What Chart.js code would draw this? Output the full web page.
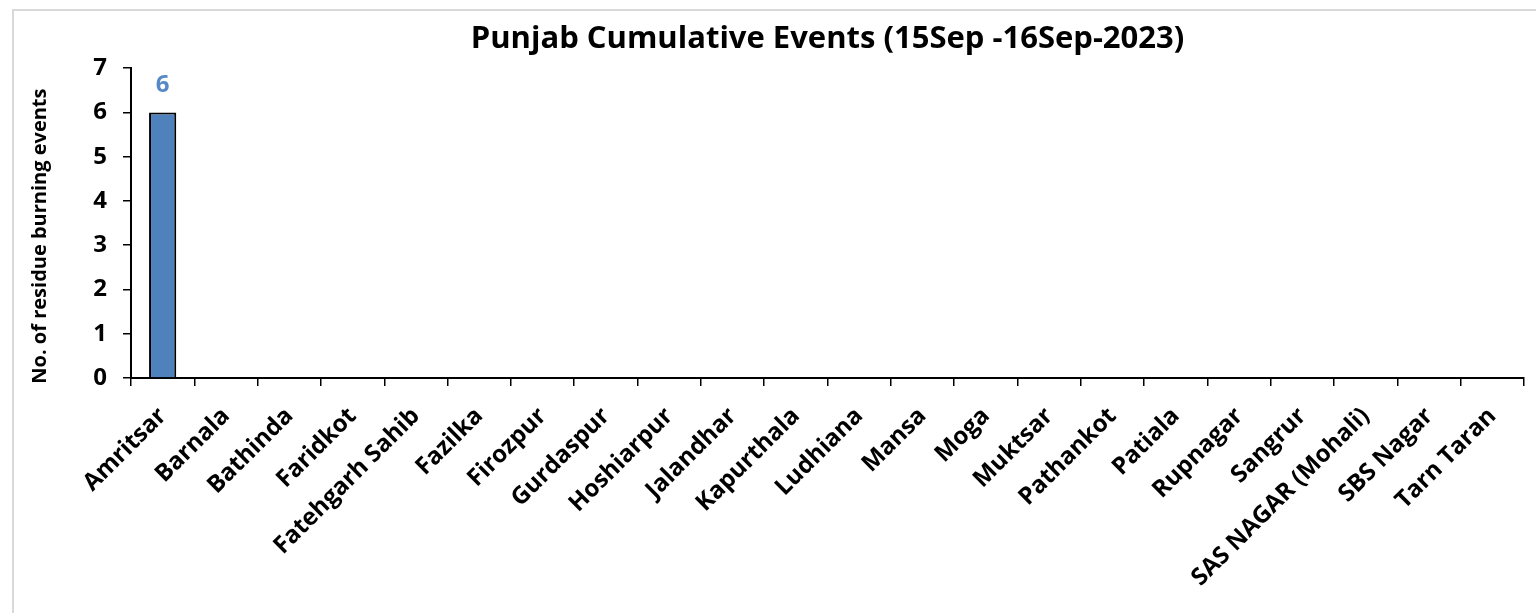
<!DOCTYPE html>
<html>
<head>
<meta charset="utf-8">
<script src="https://cdn.jsdelivr.net/npm/chart.js@4.4.0/dist/chart.umd.min.js"></script>
<style>
  html, body { margin: 0; padding: 0; background: #fff; overflow: hidden; }
  #wrap { position: relative; width: 1536px; height: 613px; }
  #frame { position: absolute; left: 12px; top: 9px; width: 1600px; height: 700px;
           border: 2px solid #d9d9d9; pointer-events: none; }
</style>
</head>
<body>
<div id="wrap">
  <canvas id="myChart" width="1536" height="613"></canvas>
  <div id="frame"></div>
</div>
<script>
// data
const districts = ["Amritsar", "Barnala", "Bathinda", "Faridkot", "Fatehgarh Sahib", "Fazilka",
  "Firozpur", "Gurdaspur", "Hoshiarpur", "Jalandhar", "Kapurthala", "Ludhiana", "Mansa", "Moga",
  "Muktsar", "Pathankot", "Patiala", "Rupnagar", "Sangrur", "SAS NAGAR (Mohali)", "SBS Nagar", "Tarn Taran"];
const eventos = [6, 0, 0, 0, 0, 0, 0, 0, 0, 0, 0, 0, 0, 0, 0, 0, 0, 0, 0, 0, 0, 0];
const yTicks = [0, 1, 2, 3, 4, 5, 6, 7];

const fuente = "'Open Sans', 'DejaVu Sans', sans-serif";

// etiquetas encima de las barras (solo valores > 0)
const etiquetas = {
  id: "etiquetas",
  afterDatasetsDraw(chart) {
    const ctx = chart.ctx;
    const meta = chart.getDatasetMeta(0);
    ctx.save();
    ctx.font = "bold 24px " + fuente;
    ctx.fillStyle = "#5589c7";
    ctx.textAlign = "center";
    ctx.textBaseline = "middle";
    meta.data.forEach((bar, i) => {
      if (eventos[i] > 0) ctx.fillText(eventos[i], bar.x, bar.y - 27);
    });
    ctx.restore();
  }
};

const ctxL = document.getElementById("myChart").getContext("2d");
const myChart = new Chart(ctxL, {
  type: "bar",
  data: {
    labels: districts,
    datasets: [{
      data: eventos,
      backgroundColor: "#4f81bd",
      borderColor: "#000000",
      borderWidth: 2,
      barPercentage: 0.43,
      categoryPercentage: 1
    }]
  },
  options: {
    responsive: false,
    animation: false,
    layout: { padding: { left: 20, right: 12, top: 0, bottom: 0 } },
    plugins: {
      legend: { display: false },
      tooltip: { enabled: false },
      title: {
        display: true,
        fullSize: false,
        text: "Punjab Cumulative Events (15Sep -16Sep-2023)",
        color: "#000",
        font: { family: fuente, size: 31, weight: "bold" },
        padding: { top: 21, bottom: 10 }
      }
    },
    scales: {
      x: {
        grid: { display: true, drawOnChartArea: false, drawTicks: true, tickLength: 8,
                color: "#000", lineWidth: 1.5, offset: true },
        border: { display: true, color: "#000", width: 2 },
        ticks: {
          color: "#000", maxRotation: 45, minRotation: 45, autoSkip: false, padding: 16,
          font: { family: fuente, size: 24, weight: "bold" }
        },
        afterFit: (scale) => { scale.height = 613 - 378; }
      },
      y: {
        min: 0, max: 7,
        afterBuildTicks: (scale) => { scale.ticks = yTicks.map(v => ({ value: v })); },
        grid: { display: true, drawOnChartArea: false, drawTicks: true, tickLength: 8,
                color: "#000", lineWidth: 1.5 },
        border: { display: true, color: "#000", width: 2 },
        ticks: { color: "#000", padding: 16, font: { family: fuente, size: 24, weight: "bold" } },
        title: {
          display: true, text: "No. of residue burning events     ", color: "#000",
          font: { family: fuente, size: 20, weight: "bold" }, padding: { top: 8, bottom: 0 }
        },
        afterFit: (scale) => { scale.width = 111; }
      }
    }
  },
  plugins: [etiquetas]
});
</script>
</body>
</html>
